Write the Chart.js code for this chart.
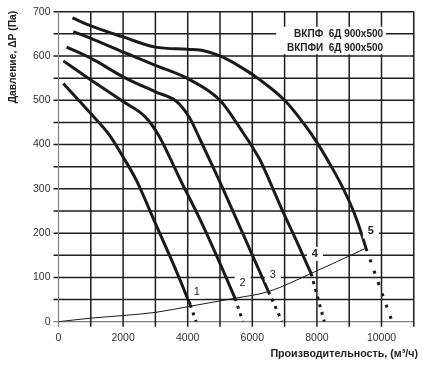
<!DOCTYPE html>
<html>
<head>
<meta charset="utf-8">
<script src="https://cdn.jsdelivr.net/npm/chart.js@4"></script>
<style>
  body { margin: 0; background: #fff; }
  #wrap { width: 427px; height: 375px; position: relative; }
</style>
</head>
<body>
<div id="wrap"><canvas id="fanChart"></canvas></div>
<script>
// Characteristic curves 1..5 (flow, m3/h -> pressure, Pa)
const curve1X = [150, 1000, 1550, 2000, 2420, 3000, 3550, 4080];
const curve1Y = [538, 470, 424, 372, 318, 222, 131, 38];
const curve2X = [150, 1000, 2000, 2680, 3090, 3452, 3762, 4381, 4900, 5465];
const curve2Y = [589, 546, 497, 463, 422, 370, 322, 231, 148, 53];
const curve3X = [250, 1000, 2000, 3000, 3660, 4070, 4380, 4740, 5000, 5930, 6500];
const curve3Y = [620, 595, 553, 519, 497, 459, 412, 356, 315, 162, 68];
const curve4X = [460, 1000, 2000, 3000, 4000, 5000, 5620, 6240, 6400, 6910, 7420, 7820];
const curve4Y = [655, 640, 609, 579, 549, 500, 437, 365, 340, 255, 174, 109];
const curve5X = [430, 1000, 2000, 3000, 4000, 4500, 5000, 5620, 6240, 7000, 7630, 8000, 8450, 8820, 9130, 9330, 9520];
const curve5Y = [686, 668, 643, 620, 615, 612, 600, 576, 546, 500, 444, 405, 350, 300, 250, 210, 166];

// dotted continuation of each curve down to zero pressure
const tailX = [[4080, 4260], [5465, 5710], [6500, 6920], [7820, 8230], [9520, 10330]];
const tailY = [[38, 0], [53, 0], [68, 0], [109, 0], [166, 0]];

// network (system) curve
const sysX = [0, 1000, 2000, 3000, 4080, 5465, 6500, 7820, 9520];
const sysY = [0, 8, 14, 21, 35, 53, 68, 109, 166];

// grid / tick values
const xTicks = [0, 1000, 2000, 3000, 4000, 5000, 6000, 7000, 8000, 9000, 10000, 11000];
const yTicks = [0, 50, 100, 150, 200, 250, 300, 350, 400, 450, 500, 550, 600, 650, 700];

// curve numbers and where they sit
const curveNames = ['1', '2', '3', '4', '5'];
const nameX = [4285, 5700, 6635, 7940, 9670];
const nameY = [68, 87, 105, 153, 204];

const legendLines = ['ВКПФ  6Д 900x500', 'ВКПФИ  6Д 900x500'];
const yTitle = 'Давление, ΔP (Па)';
const xTitle = 'Производительность, (м³/ч)';

const FONT = '"Liberation Sans", Arial, sans-serif';
const X_MIN = xTicks[0], X_MAX = xTicks[xTicks.length - 1];
const Y_MIN = yTicks[0], Y_MAX = yTicks[yTicks.length - 1];
const pts = (xs, ys) => xs.map((x, i) => ({ x: x, y: ys[i] }));

const datasets = [];
[[curve1X, curve1Y], [curve2X, curve2Y], [curve3X, curve3Y], [curve4X, curve4Y], [curve5X, curve5Y]]
  .forEach(([xs, ys]) => {
    datasets.push({
      data: pts(xs, ys),
      borderColor: '#1a1a1a',
      borderWidth: 3,
      cubicInterpolationMode: 'monotone',
      pointRadius: 0,
      order: 0
    });
  });
tailX.forEach((xs, i) => {
  datasets.push({
    data: pts(xs, tailY[i]),
    borderColor: '#1a1a1a',
    borderWidth: 3,
    borderDash: i === 4 ? [3, 9] : [3, 5],
    pointRadius: 0,
    order: 0
  });
});
datasets.push({
  data: pts(sysX, sysY),
  borderColor: '#1a1a1a',
  borderWidth: 1,
  cubicInterpolationMode: 'monotone',
  pointRadius: 0,
  order: 0
});

// grid lines as plain line datasets, drawn underneath the curves;
// they run a little past the axes to make the outer tick marks
const tickX = (X_MAX - X_MIN) * 5 / 355;
const tickY = (Y_MAX - Y_MIN) * 5 / 310;
xTicks.forEach(v => {
  datasets.push({
    data: [{ x: v, y: Y_MIN - tickY }, { x: v, y: Y_MAX }],
    borderColor: v === X_MIN ? '#808080' : '#1e1e1e',
    borderWidth: v === X_MIN ? 1.2 : 1.5,
    pointRadius: 0,
    clip: false,
    order: 2
  });
});
yTicks.forEach(v => {
  datasets.push({
    data: [{ x: X_MIN - tickX, y: v }, { x: X_MAX, y: v }],
    borderColor: v === Y_MIN ? '#808080' : '#1e1e1e',
    borderWidth: v === Y_MIN ? 1.2 : 1.5,
    pointRadius: 0,
    clip: false,
    order: 2
  });
});

// label boxes, legend and titles
const annotations = {
  id: 'annotations',
  afterDraw(chart) {
    const { ctx, scales: { x, y } } = chart;
    ctx.save();
    // legend box
    const bx0 = x.getPixelForValue(6740), bx1 = x.getPixelForValue(10140);
    const by0 = y.getPixelForValue(666), by1 = y.getPixelForValue(604);
    ctx.fillStyle = '#fff';
    ctx.fillRect(bx0, by0, bx1 - bx0, by1 - by0);
    ctx.fillStyle = '#222';
    ctx.font = 'bold 10px ' + FONT;
    ctx.textAlign = 'right';
    ctx.textBaseline = 'middle';
    ctx.fillText(legendLines[0], x.getPixelForValue(10050), y.getPixelForValue(649));
    ctx.fillText(legendLines[1], x.getPixelForValue(10050), y.getPixelForValue(617));
    // curve numbers
    curveNames.forEach((n, i) => {
      const px = x.getPixelForValue(nameX[i]);
      const py = y.getPixelForValue(nameY[i]);
      ctx.fillStyle = '#fff';
      ctx.fillRect(px - 8, py - 7, 16, 14);
      ctx.fillStyle = '#222';
      ctx.font = (i >= 3 ? 'bold ' : '') + '11px ' + FONT;
      ctx.fillText(n, px + 3, py);
    });

    ctx.fillStyle = '#222';
    ctx.font = 'bold 10.7px ' + FONT;
    ctx.textAlign = 'right';
    ctx.fillText(xTitle, 418, 354);
    ctx.font = 'bold 10.3px ' + FONT;
    ctx.translate(13, 57);
    ctx.rotate(-Math.PI / 2);
    ctx.textAlign = 'center';
    ctx.fillText(yTitle, 0, 0);
    ctx.restore();
  }
};

const tickFont = { family: FONT, size: 10.5 };

new Chart(document.getElementById('fanChart'), {
  type: 'scatter',
  data: { datasets: datasets },
  options: {
    responsive: true,
    maintainAspectRatio: false,
    animation: false,
    showLine: true,
    layout: { padding: { left: 0, top: 11.7, right: 13.2, bottom: 23.3 } },
    scales: {
      x: {
        type: 'linear',
        min: X_MIN,
        max: X_MAX,
        afterFit(s) { s.height = 30; },
        ticks: {
          stepSize: 1000,
          autoSkip: false,
          maxRotation: 0,
          padding: 5,
          color: '#333',
          font: tickFont,
          callback: v => (v % 2000 === 0 && v <= 10000 ? String(v) : '')
        },
        grid: { display: false, tickLength: 5 },
        border: { display: false }
      },
      y: {
        min: Y_MIN,
        max: Y_MAX,
        afterFit(s) { s.width = 58.5; },
        ticks: {
          stepSize: 50,
          autoSkip: false,
          padding: 3,
          color: '#333',
          font: tickFont,
          callback: v => (v % 100 === 0 ? String(v) : '')
        },
        grid: { display: false, tickLength: 5 },
        border: { display: false }
      }
    },
    plugins: {
      legend: { display: false },
      tooltip: { enabled: false }
    }
  },
  plugins: [annotations]
});
</script>
</body>
</html>
